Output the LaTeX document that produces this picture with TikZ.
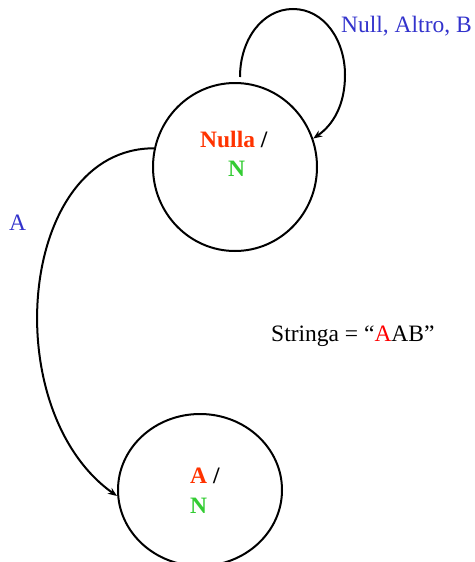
\documentclass[tikz,border=0pt]{standalone}
\usepackage{fontspec}
\setmainfont{Liberation Serif}
\usetikzlibrary{shapes.geometric,arrows.meta}
\definecolor{stateRed}{RGB}{255,51,0}
\definecolor{outGreen}{RGB}{51,204,51}
\definecolor{lblBlue}{RGB}{51,51,204}
\definecolor{strRed}{RGB}{255,0,0}
\begin{document}
\begin{tikzpicture}[x=1pt,y=-1pt,
  state/.style={draw, ellipse, line width=2pt, minimum width=164pt, minimum height=168pt, inner sep=0pt},
  trans/.style={line width=2pt, -{Stealth[length=9pt,width=7pt]}},
  txt/.style={font=\fontsize{23.5}{28}\selectfont, inner sep=0pt, anchor=base west},
  ]
\useasboundingbox (0,0) rectangle (474,562);
\clip (0,0) rectangle (474,562);
\node[state] (nulla) at (235,167) {};
\node[state, minimum height=152pt] (a) at (200,490) {};
% state texts
\node[txt] (t1) at (200,147) {\bfseries\textcolor{stateRed}{Nulla} /};
\node[txt] (t2) at (228,176) {\bfseries\textcolor{outGreen}{N}};
\node[txt] (t3) at (190,483) {\bfseries\textcolor{stateRed}{A} /};
\node[txt] (t4) at (190,513) {\bfseries\textcolor{outGreen}{N}};
% transitions
\draw[trans] ([xshift=5pt,yshift=5pt]nulla.north) .. controls (240,40) and (262,9) .. (293,9)
  .. controls (324,9) and (345,40) .. (345,75)
  .. controls (345,105) and (333,125) .. (nulla.20);
\draw[trans] (nulla.167) .. controls (18,148) and (-4,410) .. ([yshift=-6pt]a.west);
% labels
\node[txt, text=lblBlue] (l1) at (341,32) {Null, Altro, B};
\node[txt, text=lblBlue] (l2) at (9,230) {A};
\node[txt] (s) at (271,341) {Stringa = “\textcolor{strRed}{A}AB”};
\end{tikzpicture}
\end{document}
